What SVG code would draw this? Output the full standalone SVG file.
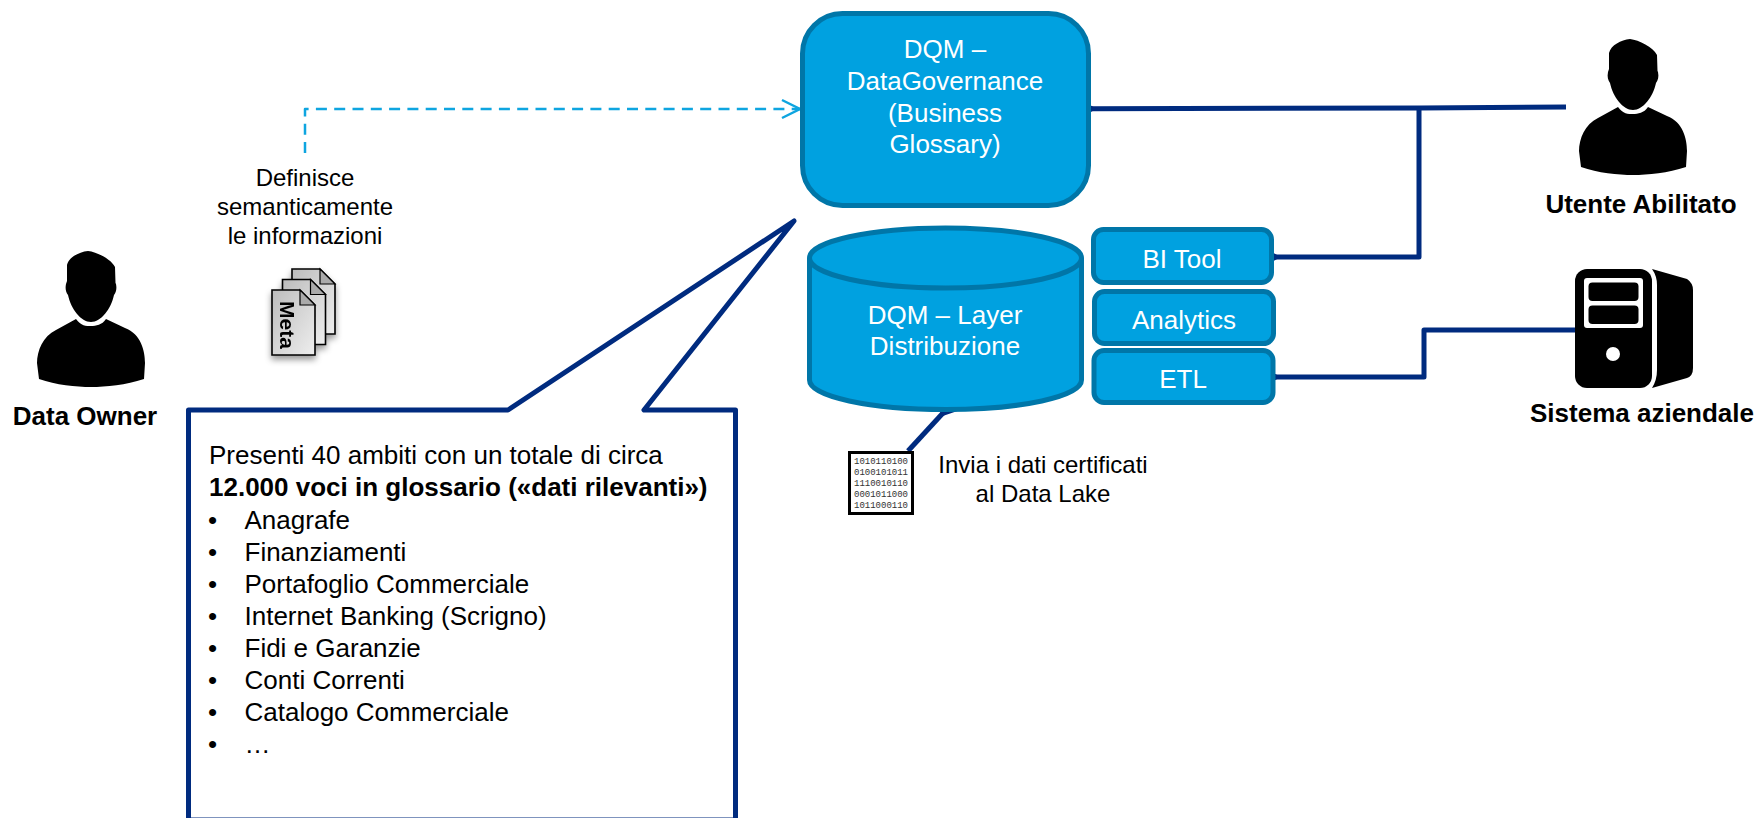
<svg xmlns="http://www.w3.org/2000/svg" width="1760" height="818" viewBox="0 0 1760 818">
<style>
text{font-family:"Liberation Sans",Arial,sans-serif;fill:#000}
.n{fill:#00A1E0;stroke:#0076A8;stroke-width:5}
.w{fill:#fff;font-size:26px;text-anchor:middle}
.t{font-size:24px;text-anchor:middle}
.l{font-size:26px}
.b{font-size:26px;font-weight:bold;text-anchor:middle}
.c{fill:none;stroke:#002B7F;stroke-width:5;stroke-linejoin:round}
.m{font-family:"Liberation Mono",monospace;font-size:9px;fill:#333}
.p{stroke:#000;stroke-width:1.6;fill:url(#pg)}
.f{stroke:#000;stroke-width:1.2;fill:#aaa}
</style>
<defs>
<marker id="ah" markerUnits="userSpaceOnUse" markerWidth="40" markerHeight="40" refX="2" refY="20" orient="auto" overflow="visible">
<path d="M22 9 L2 20 L22 31" fill="none" stroke="#002B7F" stroke-width="5.5" stroke-linecap="round" stroke-linejoin="miter"/>
</marker>
<marker id="ad" markerUnits="userSpaceOnUse" markerWidth="30" markerHeight="30" refX="20" refY="15" orient="auto" overflow="visible">
<path d="M2 6 L20 15 L2 24" fill="none" stroke="#0EA5E0" stroke-width="2.5"/>
</marker>
<linearGradient id="pg" x1="0" y1="0" x2="1" y2="1">
<stop offset="0" stop-color="#bcbcbc"/><stop offset="1" stop-color="#eeeeee"/>
</linearGradient>
<filter id="sh" x="-30%" y="-30%" width="160%" height="160%"><feDropShadow dx="0" dy="4" stdDeviation="3" flood-color="#000" flood-opacity="0.4"/></filter>
<g id="person" fill="#000">
<path d="M-3 0C6 1 20 8 24 16L24.5 32L25 33C26 38 25 41 23 44C20 58 10 71 0 71C-10 71-20 58-23 44C-25 41-26 38-25 33L-24 30L-24 14C-22 6-12 1-3 0Z"/>
<path d="M-15 68C-10 75-5 75 0 75C5 75 11 74 15 68L34 77C50 83 54 100 54 112L53 128C35 134 15 136 0 136C-15 136-35 134-52 128L-54 112C-54 100-48 85-35 79Z"/>
</g>
<path id="page" d="M0 0H28L43 15V65H0Z"/>
</defs>

<g id="connectors">
<path class="c" d="M305 153V109H800" style="stroke:#0EA5E0;stroke-width:2.5;stroke-dasharray:11 7.3" marker-end="url(#ad)"/>
<path class="c" d="M1566 107L1420 108L1091 108.7" marker-end="url(#ah)"/>
<path class="c" d="M1419 108V257H1275" marker-end="url(#ah)"/>
<path class="c" d="M1575 330H1424V377H1275" marker-end="url(#ah)"/>
<path class="c" d="M908 451L943 413" marker-end="url(#ah)"/>
</g>

<g id="dqm-governance">
<rect class="n" x="802.5" y="13.5" width="286" height="192" rx="40"/>
<text class="w" x="945" y="58">DQM –</text>
<text class="w" x="945" y="90">DataGovernance</text>
<text class="w" x="945" y="122">(Business</text>
<text class="w" x="945" y="153">Glossary)</text>
</g>

<g id="dqm-layer">
<path class="n" d="M809.5 258V380C809.5 396.5 870 409.5 945.5 409.5S1081.5 396.5 1081.5 380V258"/>
<ellipse class="n" cx="945.5" cy="258" rx="136" ry="30"/>
<text class="w" x="945" y="324">DQM – Layer</text>
<text class="w" x="945" y="355">Distribuzione</text>
</g>

<g id="bi-tool">
<rect class="n" x="1093.5" y="229.5" width="178" height="53" rx="10"/>
<text class="w" x="1182" y="268">BI Tool</text>
</g>
<g id="analytics">
<rect class="n" x="1094.5" y="291.5" width="179" height="52" rx="10"/>
<text class="w" x="1184" y="329">Analytics</text>
</g>
<g id="etl">
<rect class="n" x="1094" y="350.5" width="179" height="52" rx="10"/>
<text class="w" x="1183" y="388">ETL</text>
</g>

<g id="data-owner">
<use href="#person" x="91" y="251"/>
<text class="b" x="85" y="425">Data Owner</text>
</g>

<g id="utente-abilitato">
<use href="#person" x="1633" y="39"/>
<text class="b" x="1641" y="213">Utente Abilitato</text>
</g>

<g id="sistema-aziendale">
<rect x="1575" y="269" width="77" height="119" rx="12" fill="#000"/>
<path d="M1652 269L1687 279Q1693 283 1693 290V368Q1693 376 1687 378L1652 388Q1657 380 1657 370V285Q1657 276 1652 269Z" fill="#000"/>
<rect x="1584" y="278" width="59" height="50" rx="3" fill="#fff"/>
<rect x="1588.5" y="282.5" width="50" height="18.5" rx="4" fill="#000"/>
<rect x="1588.5" y="305.5" width="50" height="18.5" rx="4" fill="#000"/>
<circle cx="1613" cy="354" r="7" fill="#fff"/>
<text class="b" x="1642" y="422">Sistema aziendale</text>
</g>

<g id="definisce">
<text class="t" x="305" y="186">Definisce</text>
<text class="t" x="305" y="215">semanticamente</text>
<text class="t" x="305" y="244">le informazioni</text>
</g>

<g id="meta" filter="url(#sh)">
<use href="#page" class="p" x="292" y="269"/>
<path class="f" d="M320 269V284H335Z"/>
<use href="#page" class="p" x="282.5" y="279.5"/>
<path class="f" d="M310.5 279.5V294.5H325.5Z"/>
<use href="#page" class="p" x="272" y="290"/>
<path class="f" d="M300 290V305H315Z"/>
<text transform="translate(280 301) rotate(90)" style="font-size:21px;font-weight:bold">Meta</text>
</g>

<g id="callout">
<path class="c" d="M188.5 820V410H508L794 221L644 410H735.5V820Z" style="fill:#fff"/>
<text class="l" x="209" y="464">Presenti 40 ambiti con un totale di circa</text>
<text class="l" x="209" y="496" font-weight="bold">12.000 voci in glossario («dati rilevanti»)</text>
<g>
<text class="l" x="208" y="529">•</text><text class="l" x="244.5" y="529">Anagrafe</text>
<text class="l" x="208" y="561">•</text><text class="l" x="244.5" y="561">Finanziamenti</text>
<text class="l" x="208" y="593">•</text><text class="l" x="244.5" y="593">Portafoglio Commerciale</text>
<text class="l" x="208" y="625">•</text><text class="l" x="244.5" y="625">Internet Banking (Scrigno)</text>
<text class="l" x="208" y="657">•</text><text class="l" x="244.5" y="657">Fidi e Garanzie</text>
<text class="l" x="208" y="689">•</text><text class="l" x="244.5" y="689">Conti Correnti</text>
<text class="l" x="208" y="721">•</text><text class="l" x="244.5" y="721">Catalogo Commerciale</text>
<text class="l" x="208" y="753">•</text><text class="l" x="244.5" y="753">…</text>
</g>
</g>

<g id="binary">
<rect x="849.5" y="452.5" width="63" height="61" fill="#fff" stroke="#000" stroke-width="3"/>
<text class="m" x="854" y="464">1010110100</text>
<text class="m" x="854" y="475">0100101011</text>
<text class="m" x="854" y="486">1110010110</text>
<text class="m" x="854" y="497">0001011000</text>
<text class="m" x="854" y="508">1011000110</text>
</g>

<g id="invia">
<text class="t" x="1043" y="473">Invia i dati certificati</text>
<text class="t" x="1043" y="502">al Data Lake</text>
</g>
</svg>
